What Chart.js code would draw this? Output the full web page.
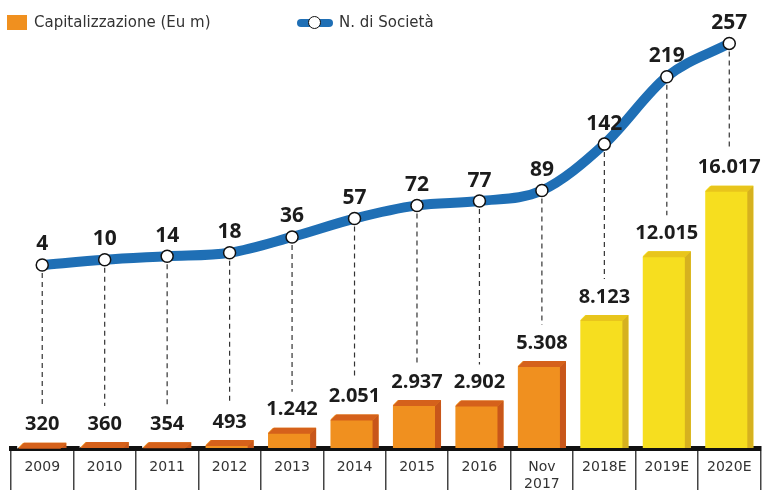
<!DOCTYPE html>
<html>
<head>
<meta charset="utf-8">
<script src="https://cdn.jsdelivr.net/npm/chart.js@4"></script>
<style>
  body { margin: 0; background: #fff; }
  #wrap { position: relative; width: 768px; height: 495px; }
  #legenda { position: absolute; top: 13px; left: 7px; font-family: 'DejaVu Sans', sans-serif; font-size: 15px; color: #333; }
  .voce { position: absolute; top: 0; white-space: nowrap; line-height: 18px; }
  .quad { display: inline-block; width: 20px; height: 15px; background: #f0901f; vertical-align: middle; margin-right: 7px; }
  .linea { display: inline-block; position: relative; width: 36px; height: 18px; vertical-align: middle; margin-right: 6px; }
  .linea:before { content: ''; position: absolute; left: 0; right: 0; top: 5px; height: 8px; border-radius: 4px; background: #1f6fb5; }
  .linea:after { content: ''; position: absolute; left: 11px; top: 2px; width: 11px; height: 11px; border-radius: 50%; background: #fff; border: 1.5px solid #111; }
</style>
</head>
<body>
<div id="wrap">
  <canvas id="grafico" width="768" height="495"></canvas>
  <div id="legenda">
    <div class="voce" style="left:0"><span class="quad"></span>Capitalizzazione (Eu m)</div>
    <div class="voce" style="left:290px"><span class="linea"></span>N. di Società</div>
  </div>
</div>
<script>
// dati
const anni = ['2009', '2010', '2011', '2012', '2013', '2014', '2015', '2016', ['Nov', '2017'], '2018E', '2019E', '2020E'];
const capitalizzazione = [320, 360, 354, 493, 1242, 2051, 2937, 2902, 5308, 8123, 12015, 16017];
const societa = [4, 10, 14, 18, 36, 57, 72, 77, 89, 142, 219, 257];

// formato italiano: 1.242
function fmt(v) {
    return String(v).replace(/\B(?=(\d{3})+(?!\d))/g, '.');
}

const stima = anni.map(a => typeof a === 'string' && a.endsWith('E'));
const coloreFronte = stima.map(e => e ? '#f6de1f' : '#f0901f');

// barre "3D": faccia superiore e laterale
const barre3d = {
    id: 'barre3d',
    afterDatasetDraw(chart, args) {
        if (args.index !== 1) return;
        const ctx = chart.ctx;
        args.meta.data.forEach((b, i) => {
            const w = b.width;
            const l = b.x - w / 2, r = b.x + w / 2;
            const t = b.y, base = b.base;
            const d = Math.min(6, base - t + 2);
            const top = stima[i] ? '#e8c51c' : '#d5611b';
            const side = stima[i] ? '#d6b11f' : '#c8561a';
            ctx.save();
            // angolo vuoto in alto a sinistra
            ctx.fillStyle = '#fff';
            ctx.beginPath();
            ctx.moveTo(l - 1, t - 1); ctx.lineTo(l + d, t - 1); ctx.lineTo(l - 1, t + d); ctx.closePath();
            ctx.fill();
            ctx.fillStyle = top;
            ctx.beginPath();
            ctx.moveTo(l, t + d); ctx.lineTo(l + d, t); ctx.lineTo(r, t); ctx.lineTo(r - d, t + d); ctx.closePath();
            ctx.fill();
            ctx.fillStyle = side;
            ctx.beginPath();
            ctx.moveTo(r - d, t + d); ctx.lineTo(r, t); ctx.lineTo(r, base); ctx.lineTo(r - d, base); ctx.closePath();
            ctx.fill();
            ctx.restore();
        });
    }
};

// linee tratteggiate ed etichette dei valori
const etichette = {
    id: 'etichette',
    beforeDatasetsDraw(chart) {
        const ctx = chart.ctx;
        const punti = chart.getDatasetMeta(0).data;
        const colonne = chart.getDatasetMeta(1).data;
        ctx.save();
        ctx.strokeStyle = '#333';
        ctx.lineWidth = 1.2;
        ctx.setLineDash([5, 4]);
        punti.forEach((p, i) => {
            const fine = colonne[i].y - 36;
            if (fine <= p.y + 8) return;
            ctx.beginPath();
            ctx.moveTo(p.x, p.y + 8);
            ctx.lineTo(p.x, fine);
            ctx.stroke();
        });
        ctx.restore();
    },
    afterDatasetsDraw(chart) {
        const ctx = chart.ctx;
        const punti = chart.getDatasetMeta(0).data;
        const colonne = chart.getDatasetMeta(1).data;
        ctx.save();
        ctx.fillStyle = '#1c1c1c';
        ctx.textAlign = 'center';
        ctx.textBaseline = 'bottom';
        ctx.font = 'bold 20px "Open Sans", sans-serif';
        colonne.forEach((b, i) => ctx.fillText(fmt(capitalizzazione[i]), b.x, b.y - 8));
        ctx.font = 'bold 21px "Open Sans", sans-serif';
        punti.forEach((p, i) => ctx.fillText(fmt(societa[i]), p.x, p.y - 10));
        ctx.restore();
    }
};

new Chart(document.getElementById('grafico'), {
    type: 'bar',
    data: {
        labels: anni,
        datasets: [{
            type: 'line',
            label: 'N. di Società',
            data: societa,
            yAxisID: 'y2',
            borderColor: '#1f6fb5',
            borderWidth: 10,
            cubicInterpolationMode: 'monotone',
            pointRadius: 6,
            pointBackgroundColor: '#fff',
            pointBorderColor: '#111',
            pointBorderWidth: 1.5,
            order: 0
        }, {
            type: 'bar',
            label: 'Capitalizzazione (Eu m)',
            data: capitalizzazione,
            yAxisID: 'y',
            backgroundColor: coloreFronte,
            barPercentage: 0.77,
            categoryPercentage: 1,
            order: 1
        }]
    },
    options: {
        responsive: false,
        animation: false,
        layout: { padding: { left: 11, right: 0, top: 0, bottom: 0 } },
        plugins: {
            legend: { display: false },
            tooltip: { enabled: false }
        },
        scales: {
            x: {
                position: 'bottom',
                grid: {
                    offset: true,
                    drawOnChartArea: false,
                    drawTicks: true,
                    tickLength: 42,
                    color: '#444',
                    lineWidth: 1.5
                },
                border: { display: true, color: '#111', width: 5 },
                ticks: {
                    color: '#333',
                    font: { family: 'DejaVu Sans', size: 14 },
                    padding: -31,
                    autoSkip: false,
                    maxRotation: 0
                },
                afterFit: s => { s.height = 47; }
            },
            y: { display: false, min: 0, max: 26900 },
            y2: { display: false, min: -205, max: 298 }
        }
    },
    plugins: [barre3d, etichette]
});
</script>
</body>
</html>
